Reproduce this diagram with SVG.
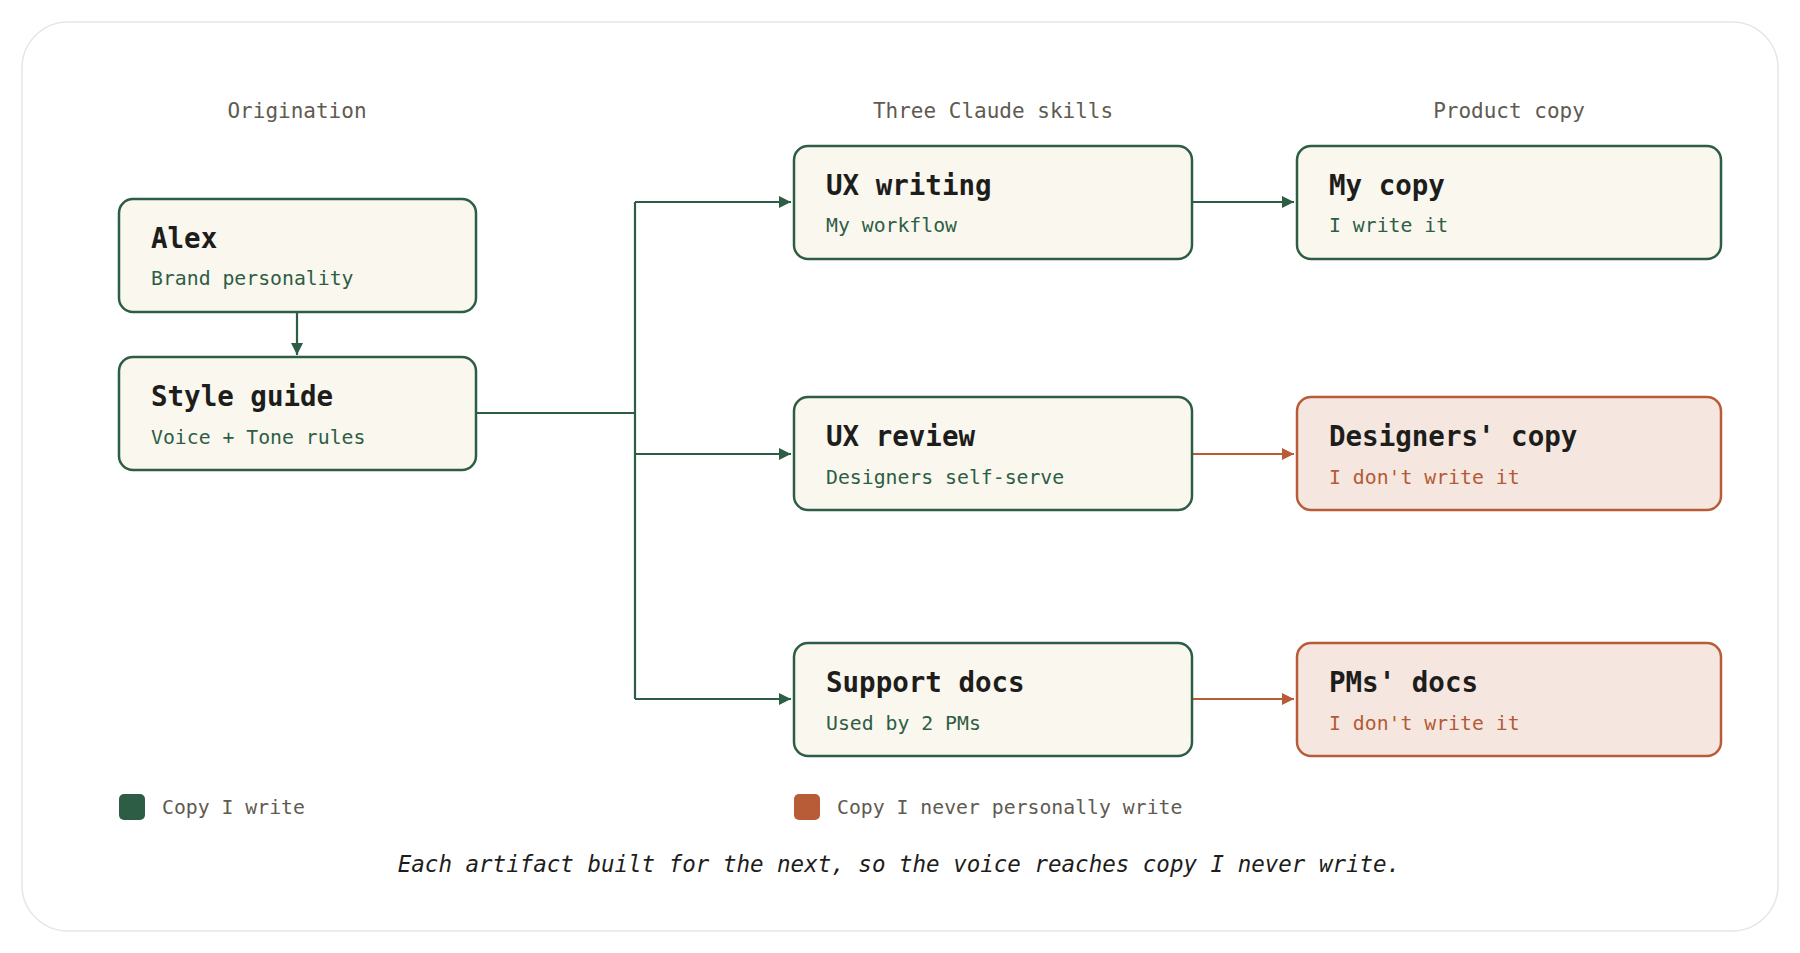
<svg xmlns="http://www.w3.org/2000/svg" width="1800" height="953" viewBox="0 0 1800 953">
<defs>
<style>
text{font-family:"DejaVu Sans Mono","Liberation Mono",monospace}
.hd{font-size:21px;fill:#5f5a52;text-anchor:middle}
.t{font-size:27.5px;font-weight:bold;fill:#1d1d1b}
.sg{font-size:19.8px;fill:#2d5e45}
.so{font-size:19.8px;fill:#b45a36}
.g rect{fill:#faf7ef;stroke:#2d5e45;stroke-width:2.5}
.o rect{fill:#f5e7df;stroke:#b85c38;stroke-width:2.5}
.cg{fill:none;stroke:#2d5e45;stroke-width:2.2}
.co{fill:none;stroke:#b85c38;stroke-width:2.2}
.lg{font-size:19.8px;fill:#5f5a52}
</style>
<marker id="ag" viewBox="0 0 10 10" refX="10" refY="5" markerWidth="12" markerHeight="12" markerUnits="userSpaceOnUse" orient="auto"><path d="M0,0L10,5L0,10z" fill="#2d5e45"/></marker>
<marker id="ao" viewBox="0 0 10 10" refX="10" refY="5" markerWidth="12" markerHeight="12" markerUnits="userSpaceOnUse" orient="auto"><path d="M0,0L10,5L0,10z" fill="#b85c38"/></marker>
</defs>
<rect x="0" y="0" width="1800" height="953" fill="#fff"/>
<rect x="22" y="22" width="1756" height="909" rx="46" fill="#fff" stroke="#e6e6e4" stroke-width="1.5"/>
<text class="hd" x="297" y="118">Origination</text>
<text class="hd" x="993" y="118">Three Claude skills</text>
<text class="hd" x="1509" y="118">Product copy</text>
<g id="connectors">
<path class="cg" d="M297,312V355" marker-end="url(#ag)"/>
<path class="cg" d="M476,413H635"/>
<path class="cg" d="M635,202V699"/>
<path class="cg" d="M635,202H791" marker-end="url(#ag)"/>
<path class="cg" d="M635,454H791" marker-end="url(#ag)"/>
<path class="cg" d="M635,699H791" marker-end="url(#ag)"/>
<path class="cg" d="M1192,202H1294" marker-end="url(#ag)"/>
<path class="co" d="M1192,454H1294" marker-end="url(#ao)"/>
<path class="co" d="M1192,699H1294" marker-end="url(#ao)"/>
</g>
<g id="alex" class="g"><rect x="119" y="199" width="357" height="113" rx="14"/><text class="t" x="151" y="248">Alex</text><text class="sg" x="151" y="285">Brand personality</text></g>
<g id="style-guide" class="g"><rect x="119" y="357" width="357" height="113" rx="14"/><text class="t" x="151" y="406">Style guide</text><text class="sg" x="151" y="444">Voice + Tone rules</text></g>
<g id="ux-writing" class="g"><rect x="794" y="146" width="398" height="113" rx="14"/><text class="t" x="826" y="195">UX writing</text><text class="sg" x="826" y="232">My workflow</text></g>
<g id="ux-review" class="g"><rect x="794" y="397" width="398" height="113" rx="14"/><text class="t" x="826" y="446">UX review</text><text class="sg" x="826" y="484">Designers self-serve</text></g>
<g id="support-docs" class="g"><rect x="794" y="643" width="398" height="113" rx="14"/><text class="t" x="826" y="692">Support docs</text><text class="sg" x="826" y="730">Used by 2 PMs</text></g>
<g id="my-copy" class="g"><rect x="1297" y="146" width="424" height="113" rx="14"/><text class="t" x="1329" y="195">My copy</text><text class="sg" x="1329" y="232">I write it</text></g>
<g id="designers-copy" class="o"><rect x="1297" y="397" width="424" height="113" rx="14"/><text class="t" x="1329" y="446">Designers' copy</text><text class="so" x="1329" y="484">I don't write it</text></g>
<g id="pms-docs" class="o"><rect x="1297" y="643" width="424" height="113" rx="14"/><text class="t" x="1329" y="692">PMs' docs</text><text class="so" x="1329" y="730">I don't write it</text></g>
<g id="legend">
<rect x="119" y="794" width="26" height="26" rx="5" fill="#2d5e45"/><text class="lg" x="162" y="814">Copy I write</text>
<rect x="794" y="794" width="26" height="26" rx="5" fill="#b85c38"/><text class="lg" x="837" y="814">Copy I never personally write</text>
</g>
<text x="899" y="872" text-anchor="middle" font-size="22.5" font-style="italic" fill="#1d1d1b">Each artifact built for the next, so the voice reaches copy I never write.</text>
</svg>
